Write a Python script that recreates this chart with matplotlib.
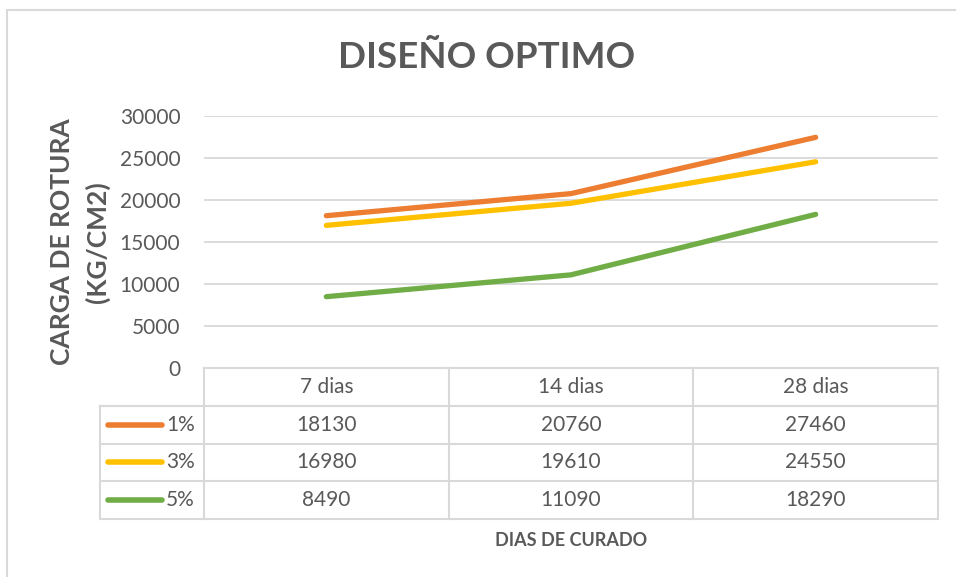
import matplotlib.pyplot as plt
from matplotlib.patches import Rectangle

# Data
categories = ['7 dias', '14 dias', '28 dias']
series_names = ['1%', '3%', '5%']
values_1 = [18130, 20760, 27460]
values_3 = [16980, 19610, 24550]
values_5 = [8490, 11090, 18290]
colors = ['#ED7D31', '#FFC000', '#70AD47']
series = [values_1, values_3, values_5]

plt.rcParams['font.family'] = ['Lato', 'DejaVu Sans']
text_color = '#595959'
grid_color = '#d9d9d9'

W, H = 956, 577
fig = plt.figure(figsize=(W / 100, H / 100), dpi=100)


def fx(px):
    return px / W


def fy(py):
    return 1 - py / H


# chart border
fig.add_artist(Rectangle((fx(7), -0.1), 1.2, fy(10) + 0.1, transform=fig.transFigure,
                         fill=False, edgecolor=grid_color, linewidth=1.5))

# plot area
left, right, top, bottom = 204, 938, 116, 368
ax = fig.add_axes([fx(left), fy(bottom), fx(right - left), (bottom - top) / H])
x = list(range(len(categories)))
for vals, c in zip(series, colors):
    ax.plot(x, vals, color=c, linewidth=3.8, solid_capstyle='round', zorder=3)
ax.set_xlim(-0.5, len(categories) - 0.5)
ax.set_ylim(0, 30000)
ax.set_yticks(range(0, 30001, 5000))
ax.set_xticks([])
ax.yaxis.grid(True, color=grid_color, linewidth=1.3)
ax.set_axisbelow(True)
for s in ax.spines.values():
    s.set_visible(False)
ax.tick_params(axis='y', length=0, pad=17, labelsize=15, labelcolor=text_color)

fig.text(fx(487), fy(57), 'DISEÑO OPTIMO', fontsize=26.5, fontweight='bold',
         color=text_color, ha='center', va='center')
fig.text(fx(62), fy(242), 'CARGA DE ROTURA', fontsize=19, fontweight='bold',
         color=text_color, ha='center', va='center', rotation=90)
fig.text(fx(97), fy(242), '(KG/CM2)', fontsize=19, fontweight='bold',
         color=text_color, ha='center', va='center', rotation=90)
fig.text(fx(571), fy(540), 'DIAS DE CURADO', fontsize=13, fontweight='bold',
         color=text_color, ha='center', va='center')

# data table
tab_left, tab_bottom = 100, 519
scale = 3 / (right - left)
xl = -0.5 - (left - tab_left) * scale
tax = fig.add_axes([fx(tab_left), fy(tab_bottom), fx(right - tab_left), (tab_bottom - bottom) / H])
tax.set_xlim(xl, len(categories) - 0.5)
tax.set_ylim(4, 0)
tax.axis('off')
lw = 1.5
tax.plot([-0.5, 2.5], [0, 0], color=grid_color, lw=lw, clip_on=False)
for yy in [1, 2, 3, 4]:
    tax.plot([xl, 2.5], [yy, yy], color=grid_color, lw=lw, clip_on=False)
for xx in [-0.5, 0.5, 1.5, 2.5]:
    tax.plot([xx, xx], [0, 4], color=grid_color, lw=lw, clip_on=False)
tax.plot([xl, xl], [1, 4], color=grid_color, lw=lw, clip_on=False)

for i, cat in enumerate(categories):
    tax.text(i, 0.5, cat, ha='center', va='center', fontsize=15, color=text_color)
for r, (name, vals, c) in enumerate(zip(series_names, series, colors)):
    yy = r + 1.5
    tax.plot([xl + 8 * scale, xl + 62 * scale], [yy, yy], color=c, lw=4,
             solid_capstyle='round', clip_on=False)
    tax.text(xl + 66 * scale, yy, name, ha='left', va='center', fontsize=15, color=text_color)
    for i, v in enumerate(vals):
        tax.text(i, yy, str(v), ha='center', va='center', fontsize=15, color=text_color)

fig.savefig('out.png', dpi=100)
